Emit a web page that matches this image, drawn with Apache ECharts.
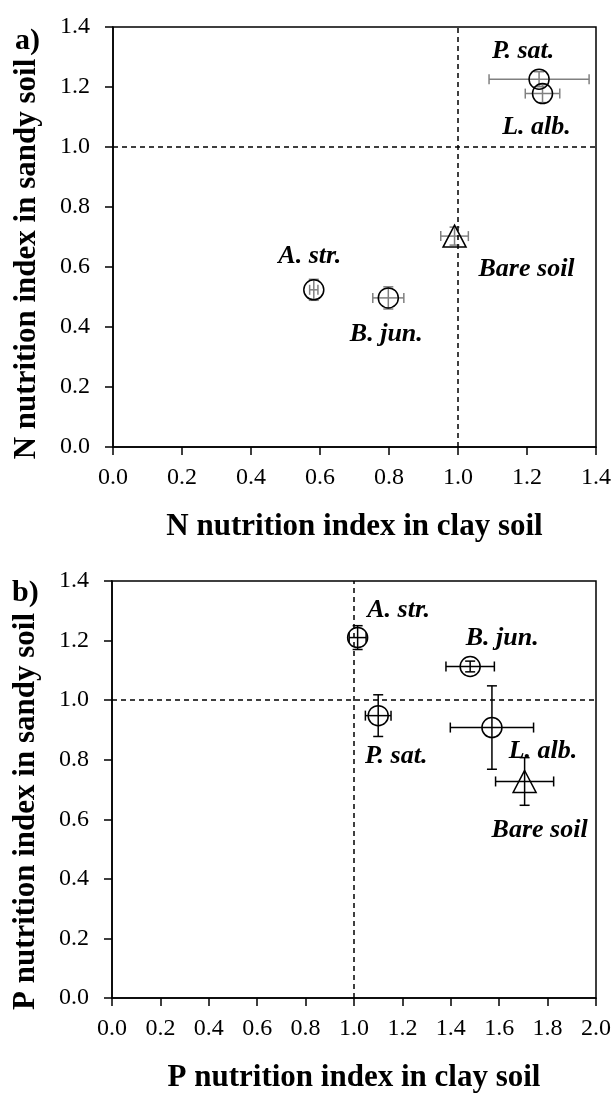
<!DOCTYPE html>
<html>
<head>
    <meta charset="utf-8">
    <title></title>
    <script src="https://cdn.jsdelivr.net/npm/echarts@6/dist/echarts.min.js"></script>
    <style>
        body{
            margin: 0;
            background: #fff;
        }
        #main{
            width: 614px;
            height: 1094px;
        }
    </style>
</head>
<body>
<div id="main"></div>
<script>
    // species shown in both panels
    var speciesA = ['A. str.', 'B. jun.', 'Bare soil', 'P. sat.', 'L. alb.'];
    // a) N nutrition index (clay soil on x, sandy soil on y)
    var nClay     = [0.582, 0.798, 0.990, 1.235, 1.245];
    var nSandy    = [0.524, 0.497, 0.703, 1.226, 1.178];
    var nClayErr  = [0.012, 0.045, 0.040, 0.145, 0.050];
    var nSandyErr = [0.035, 0.037, 0.030, 0.025, 0.030];

    var speciesB = ['A. str.', 'B. jun.', 'P. sat.', 'L. alb.', 'Bare soil'];
    // b) P nutrition index
    var pClay     = [1.015, 1.480, 1.100, 1.570, 1.705];
    var pSandy    = [1.210, 1.113, 0.948, 0.908, 0.727];
    var pClayErr  = [0.035, 0.100, 0.053, 0.172, 0.120];
    var pSandyErr = [0.040, 0.018, 0.070, 0.140, 0.080];

    // label offsets (px) relative to the marker
    var offA = {'A. str.': [-4, -34], 'B. jun.': [-2, 36], 'Bare soil': [72, 33], 'P. sat.': [-16, -28], 'L. alb.': [-6, 34]};
    var offB = {'A. str.': [41, -27], 'B. jun.': [32, -28], 'P. sat.': [18, 41], 'L. alb.': [51, 24], 'Bare soil': [15, 49]};

    var serif = '"Liberation Serif", "Times New Roman", serif';

    function errBarRender(color){
        return function (params, api) {
            var x = api.value(0), y = api.value(1), xe = api.value(2), ye = api.value(3);
            var l = api.coord([x - xe, y]), r = api.coord([x + xe, y]);
            var t = api.coord([x, y + ye]), b = api.coord([x, y - ye]);
            var h = 5;
            var st = {stroke: color, lineWidth: 1.5};
            var kids = [];
            if (xe > 0) {
                kids.push({type: 'line', shape: {x1: l[0], y1: l[1], x2: r[0], y2: r[1]}, style: st});
                kids.push({type: 'line', shape: {x1: l[0], y1: l[1] - h, x2: l[0], y2: l[1] + h}, style: st});
                kids.push({type: 'line', shape: {x1: r[0], y1: r[1] - h, x2: r[0], y2: r[1] + h}, style: st});
            }
            if (ye > 0) {
                kids.push({type: 'line', shape: {x1: t[0], y1: t[1], x2: b[0], y2: b[1]}, style: st});
                kids.push({type: 'line', shape: {x1: t[0] - h, y1: t[1], x2: t[0] + h, y2: t[1]}, style: st});
                kids.push({type: 'line', shape: {x1: b[0] - h, y1: b[1], x2: b[0] + h, y2: b[1]}, style: st});
            }
            return {type: 'group', children: kids};
        };
    }

    function makeAxis(max, name, isX){
        return {
            type: 'value',
            min: 0,
            max: max,
            interval: 0.2,
            name: name,
            nameLocation: 'middle',
            nameGap: isX ? 64 : 71,
            // y title sits a bit below the middle of the plot
            nameTextStyle: {fontFamily: serif, fontWeight: 'bold', fontSize: 31, color: '#000',
                            padding: isX ? 0 : [0, 44, 0, 0]},
            axisLine: {show: true, lineStyle: {color: '#000', width: 1.5}},
            axisTick: {show: true, length: 8, lineStyle: {color: '#000', width: 1.5}},
            axisLabel: {
                fontFamily: serif, fontSize: 24, color: '#000',
                margin: isX ? 19 : 23,
                formatter: function (v) { return v.toFixed(1); }
            },
            splitLine: {show: false}
        };
    }

    function buildPoints(names, xs, ys, offs){
        var out = [];
        for (var i = 0; i < names.length; i++) {
            var tri = names[i] == 'Bare soil';
            out.push({
                name: names[i],
                value: [xs[i], ys[i]],
                symbol: tri ? 'triangle' : 'circle',
                symbolSize: tri ? [23, 22] : 20,
                label: {offset: offs[names[i]]}
            });
        }
        return out;
    }

    function buildErr(xs, ys, xe, ye){
        var out = [];
        for (var i = 0; i < xs.length; i++) {
            out.push([xs[i], ys[i], xe[i], ye[i]]);
        }
        return out;
    }

    var dashed = {
        silent: true,
        symbol: 'none',
        label: {show: false},
        lineStyle: {type: [5, 4], color: '#000', width: 1.5, opacity: 1},
        emphasis: {disabled: true},
        data: [{xAxis: 1}, {yAxis: 1}]
    };

    var ptLabel = {
        show: true,
        position: 'inside',
        formatter: '{b}',
        fontFamily: serif,
        fontWeight: 'bold',
        fontStyle: 'italic',
        fontSize: 26,
        color: '#000',
        opacity: 1,
        textBorderWidth: 0
    };
    var ptStyle = {color: 'rgba(0,0,0,0)', borderColor: '#000', borderWidth: 1.5, opacity: 1};

    var option = {
        animation: false,
        backgroundColor: '#fff',
        graphic: [
            {type: 'text', left: 15, top: 26, style: {text: 'a)', font: 'bold 30px "Liberation Serif"', fill: '#000'}},
            {type: 'text', left: 12, top: 578, style: {text: 'b)', font: 'bold 30px "Liberation Serif"', fill: '#000'}}
        ],
        grid: [
            {left: 113, top: 27, width: 484, height: 420, show: true, borderColor: '#000', borderWidth: 1.5},
            {left: 112, top: 581, width: 484, height: 420, show: true, borderColor: '#000', borderWidth: 1.5}
        ],
        xAxis: [
            Object.assign(makeAxis(1.4, 'N nutrition index in clay soil', true), {gridIndex: 0}),
            Object.assign(makeAxis(2.0, 'P nutrition index in clay soil', true), {gridIndex: 1})
        ],
        yAxis: [
            Object.assign(makeAxis(1.4, 'N nutrition index in sandy soil', false), {gridIndex: 0}),
            Object.assign(makeAxis(1.4, 'P nutrition index in sandy soil', false), {gridIndex: 1})
        ],
        series: [
            {
                type: 'custom', xAxisIndex: 0, yAxisIndex: 0,
                renderItem: errBarRender('#808080'),
                encode: {x: 0, y: 1},
                data: buildErr(nClay, nSandy, nClayErr, nSandyErr),
                z: 2
            },
            {
                type: 'scatter', xAxisIndex: 0, yAxisIndex: 0,
                data: buildPoints(speciesA, nClay, nSandy, offA),
                itemStyle: ptStyle,
                label: ptLabel,
                emphasis: {disabled: true},
                markLine: dashed,
                z: 3
            },
            {
                type: 'custom', xAxisIndex: 1, yAxisIndex: 1,
                renderItem: errBarRender('#000'),
                encode: {x: 0, y: 1},
                data: buildErr(pClay, pSandy, pClayErr, pSandyErr),
                z: 2
            },
            {
                type: 'scatter', xAxisIndex: 1, yAxisIndex: 1,
                data: buildPoints(speciesB, pClay, pSandy, offB),
                itemStyle: ptStyle,
                label: ptLabel,
                emphasis: {disabled: true},
                markLine: dashed,
                z: 3
            }
        ]
    };

    var chart = echarts.init(document.getElementById('main'));
    chart.setOption(option);
</script>
</body>
</html>
